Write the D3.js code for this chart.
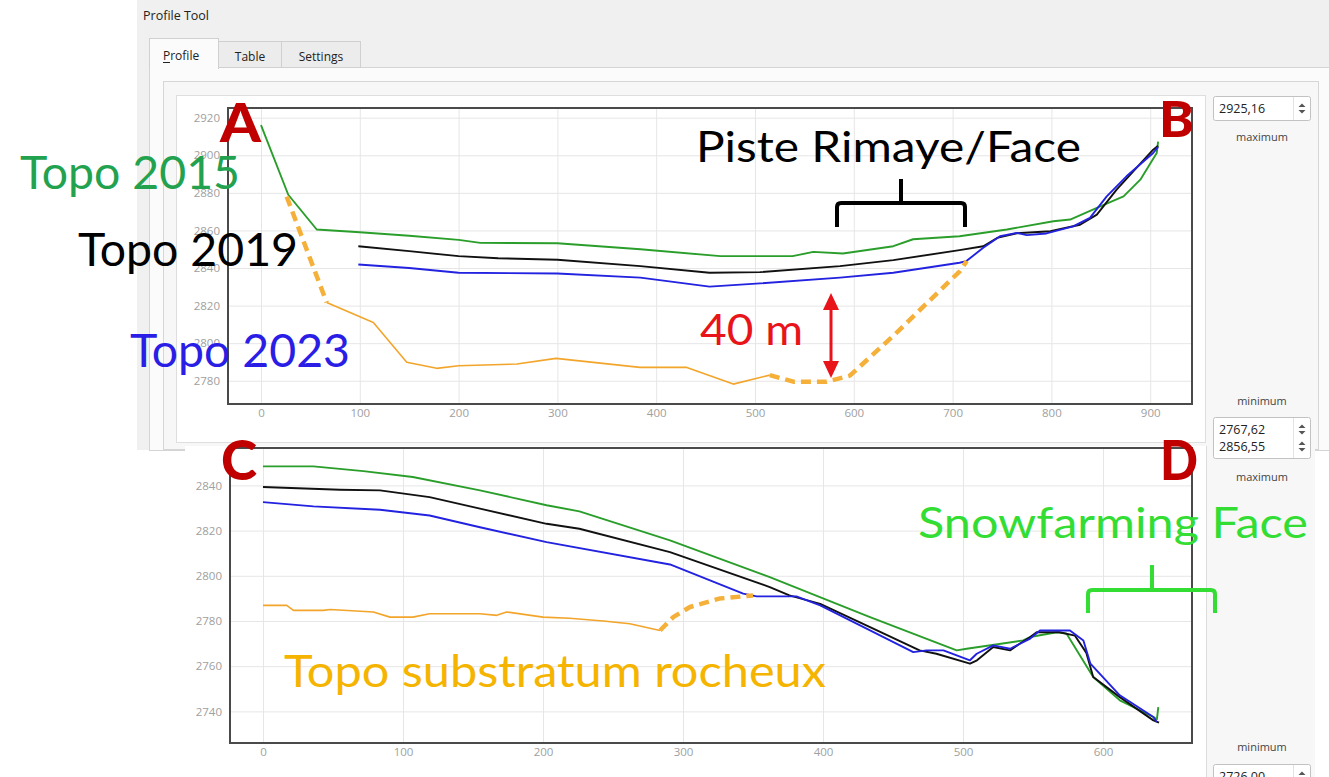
<!DOCTYPE html>
<html><head><meta charset="utf-8">
<script src="https://cdn.jsdelivr.net/npm/d3@7/dist/d3.min.js"></script>
<style>body{margin:0;background:#fff;} svg{display:block;}</style>
</head><body><svg id="c" width="1329" height="777"></svg>
<script>
// ---------- DATA ----------
const topXTicks = [0,100,200,300,400,500,600,700,800,900];
const topYTicks = [2780,2800,2820,2840,2860,2880,2900,2920];
const botXTicks = [0,100,200,300,400,500,600];
const botYTicks = [2740,2760,2780,2800,2820,2840];
const topYRange = [2767.62, 2925.16];
const botYRange = [2726.00, 2856.55];

// Profile A-B  [distance m, elevation m]
const topo2015AB = [[0,2916],[27.6,2879],[56.4,2860.5],[100,2859],[150,2857.2],[200,2855],[222,2853.4],[300,2853.2],[384,2850],[465,2846.3],[538,2846.3],[559,2848.6],[589,2847.7],[640,2851.6],[660,2855.3],[707,2856.9],[755,2860.5],[802,2864.9],[819,2865.8],[846,2872],[873,2878.1],[890,2887],[906.6,2901.2],[908,2907.3]];
const topo2019AB = [[98.5,2851.6],[150,2849],[200,2846.3],[240,2845.2],[300,2844.4],[384,2841],[454,2837.5],[505,2837.8],[586,2841],[640,2844.2],[707,2849.5],[731,2851.6],[745,2856],[765,2858.5],[799,2859.6],[829,2863],[846,2868.4],[866,2881.7],[903,2903],[908,2905]];
const topo2023AB = [[98.5,2841.9],[150,2840],[200,2837.5],[300,2837.1],[384,2834.9],[454,2830.1],[505,2831.8],[586,2834.9],[640,2837.5],[707,2842.8],[714,2843.7],[731,2850.8],[748,2856.9],[765,2858.7],[775,2857.5],[795,2858.4],[822,2862.2],[839,2866.7],[856,2878.1],[876,2888.8],[903,2901.2],[908,2904.5]];
const rockAB = [[66.5,2821.6],[113.7,2811],[147.5,2789.8],[177.8,2786.6],[200,2788],[259,2788.9],[298.6,2791.9],[383.6,2787.1],[431,2787.1],[478,2778.2],[515,2783]];
const rockAB_estA = [[26,2878],[66.5,2821.6]];
const rockAB_estB = [[515,2783],[538.8,2779.5],[572.6,2779.5],[596,2782.7],[640,2803.9],[707.5,2838.4],[714.3,2843.7]];

// Profile C-D
const topo2015CD = [[0,2848.4],[36,2848.4],[71.7,2846.3],[107,2843.7],[155,2837.8],[202.6,2831.2],[226,2828.5],[290.7,2815.7],[362,2799.4],[433.6,2781.7],[495.5,2767],[502.6,2767.7],[543,2771.4],[548,2772.9],[567,2775],[574,2774.4],[593,2755.2],[612,2744.9],[636,2737.5],[638.5,2736.5],[639.5,2741.9]];
const topo2019CD = [[0,2839.3],[55,2838.1],[83.6,2837.8],[119,2834.8],[155,2829.7],[202.6,2823],[226,2820.8],[290.7,2810.5],[362,2795],[376,2791.3],[398,2787.6],[433.6,2777.3],[469,2767],[481,2765.5],[505,2761.1],[510,2762.6],[521.6,2768.5],[533.6,2767],[540.7,2770],[548,2772.9],[552.6,2775],[569,2775],[580,2773.5],[588,2766],[593,2755.2],[612,2746.3],[636,2736],[640,2735]];
const topo2023CD = [[0,2832.6],[36,2830.7],[83.6,2829.2],[119,2826.7],[155,2821.5],[202.6,2814.9],[290.7,2805],[343,2792.1],[352.6,2790.9],[381,2790.9],[398,2786.9],[433.6,2775.8],[464.5,2766.2],[474,2767],[486,2767],[505,2762.6],[509.8,2765.5],[521.6,2769.2],[533.6,2767.7],[548,2772.2],[555,2775.8],[576.4,2775.8],[586,2771.4],[591,2761.1],[612,2747.1],[636,2737.5],[638.4,2735.3]];
const rockCD = [[0,2786.9],[17,2786.9],[21.7,2784.7],[43,2784.7],[48,2785.1],[78.8,2784],[90.7,2781.7],[107,2781.7],[119,2783.2],[155,2783.2],[167,2782.5],[174,2784],[200,2781.7],[219,2781.2],[243,2780],[262,2778.8],[283.6,2775.8]];
const rockCD_est = [[283.6,2775.8],[293,2781.7],[305,2786.2],[326,2789.9],[350,2791.3]];

// ---------- STYLE ----------
const C = {green:"#2a9e2a", black:"#111111", blue:"#2222e0", orange:"#f2a52a", orangeDash:"#f5b03a"};
const svg = d3.select("#c");
const uiFont = "'Open Sans', 'Noto Sans', sans-serif";
const annFont = "Lato, 'Open Sans', sans-serif";
const fmt = v => d3.format(".2f")(v).replace(".", ",");

// ---------- WINDOW CHROME (top screenshot) ----------
svg.append("rect").attr("x",137).attr("y",0).attr("width",1192).attr("height",450).attr("fill","#f0f0f0");
svg.append("text").attr("x",143).attr("y",20).attr("font-family",uiFont).attr("font-size",12.5).attr("fill","#222").text("Profile Tool");
// tab pane
svg.append("rect").attr("x",149.5).attr("y",67.5).attr("width",1200).attr("height",383).attr("fill","#fbfbfb").attr("stroke","#d4d4d4");
// tabs
const tabs = [{t:"Table",x:218.5,w:63,y:41.5},{t:"Settings",x:281.5,w:79,y:41.5}];
tabs.forEach(d=>{
  svg.append("rect").attr("x",d.x).attr("y",d.y).attr("width",d.w).attr("height",26).attr("fill","#ececec").attr("stroke","#d0d0d0");
  svg.append("text").attr("x",d.x+d.w/2).attr("y",61).attr("text-anchor","middle").attr("font-family",uiFont).attr("font-size",12).attr("fill","#222").text(d.t);
});
svg.append("rect").attr("x",149.5).attr("y",38.5).attr("width",69).attr("height",30).attr("fill","#fbfbfb").attr("stroke","#d0d0d0");
svg.append("rect").attr("x",150).attr("y",66).attr("width",68).attr("height",3).attr("fill","#fbfbfb");
svg.append("text").attr("x",163).attr("y",60).attr("font-family",uiFont).attr("font-size",12).attr("fill","#222").text("Profile");
svg.append("line").attr("x1",163).attr("x2",170).attr("y1",62.5).attr("y2",62.5).attr("stroke","#222");
// group box
svg.append("rect").attr("x",163.5).attr("y",81.5).attr("width",1155).attr("height",368).attr("fill","#f7f7f7").attr("stroke","#d6d6d6");
// plot widget
svg.append("rect").attr("x",176.5).attr("y",95.5).attr("width",1029).attr("height",347).attr("fill","#fff").attr("stroke","#dedede");

// ---------- bottom screenshot ----------
svg.append("rect").attr("x",185).attr("y",446).attr("width",1130).attr("height",331).attr("fill","#f7f7f7");
svg.append("rect").attr("x",185).attr("y",446).attr("width",1021).attr("height",331).attr("fill","#fff");
svg.append("line").attr("x1",1206.5).attr("x2",1206.5).attr("y1",446).attr("y2",777).attr("stroke","#dcdcdc");

// ---------- spin boxes ----------
function spinArrows(cx, cy){
  svg.append("path").attr("d",`M${cx-3.5},${cy-1.5} L${cx},${cy-5} L${cx+3.5},${cy-1.5} Z`).attr("fill","#555");
  svg.append("path").attr("d",`M${cx-3.5},${cy+1.5} L${cx},${cy+5} L${cx+3.5},${cy+1.5} Z`).attr("fill","#555");
}
function spinBox(y, h, values){
  svg.append("rect").attr("x",1213.5).attr("y",y+0.5).attr("width",97).attr("height",h).attr("rx",2).attr("fill","#fff").attr("stroke","#c2c2c2");
  svg.append("line").attr("x1",1293.5).attr("x2",1293.5).attr("y1",y+1).attr("y2",y+h).attr("stroke","#e2e2e2");
  values.forEach((v,i)=>{
    svg.append("text").attr("x",1219).attr("y",y+17+i*17).attr("font-family",uiFont).attr("font-size",12.5).attr("fill","#222").text(fmt(v));
    spinArrows(1302, y+12.5+i*17);
  });
}
function caption(y, t){
  svg.append("text").attr("x",1262).attr("y",y).attr("text-anchor","middle").attr("font-family",uiFont).attr("font-size",11).attr("fill","#444").text(t);
}
spinBox(96, 24, [topYRange[1]]);
caption(141, "maximum");
caption(405, "minimum");
spinBox(417, 41, [topYRange[0], botYRange[1]]);
caption(481, "maximum");
caption(751, "minimum");
spinBox(764, 24, [botYRange[0]]);

// ---------- chart panels ----------
function panel(cfg){
  const {x, y, xt, yt} = cfg;
  const [x0,x1] = x.range(), [y0,y1] = y.range(); // y0 bottom
  const g = svg.append("g");
  // grid
  const gx = g.append("g").attr("transform",`translate(0,${y0})`)
    .call(d3.axisBottom(x).tickValues(xt).tickSize(-(y0-y1)).tickFormat(""));
  gx.select(".domain").remove();
  gx.selectAll("line").attr("stroke","#e6e6e6");
  const gy = g.append("g").attr("transform",`translate(${x0},0)`)
    .call(d3.axisLeft(y).tickValues(yt).tickSize(-(x1-x0)).tickFormat(""));
  gy.select(".domain").remove();
  gy.selectAll("line").attr("stroke","#e6e6e6");
  // tick labels
  const lx = g.append("g").attr("transform",`translate(0,${y0})`)
    .call(d3.axisBottom(x).tickValues(xt).tickSize(0).tickPadding(5).tickFormat(d3.format("d")));
  lx.select(".domain").remove();
  lx.selectAll("text").attr("font-family",uiFont).attr("font-size",11.5).attr("fill","#a0a0a0");
  const ly = g.append("g").attr("transform",`translate(${x0},0)`)
    .call(d3.axisLeft(y).tickValues(yt).tickSize(0).tickPadding(8).tickFormat(d3.format("d")));
  ly.select(".domain").remove();
  ly.selectAll("text").attr("font-family",uiFont).attr("font-size",11.5).attr("fill","#a0a0a0");
  // frame
  g.append("rect").attr("x",x0).attr("y",y1).attr("width",x1-x0).attr("height",y0-y1)
    .attr("fill","none").attr("stroke","#4a4a4a").attr("stroke-width",2);
  const line = d3.line().x(d=>x(d[0])).y(d=>y(d[1]));
  cfg.series.forEach(s=>{
    g.append("path").datum(s.data).attr("d",line).attr("fill","none")
      .attr("stroke",s.color).attr("stroke-width",s.w||1.9)
      .attr("stroke-dasharray",s.dash||null).attr("stroke-linejoin","round");
  });
}

const topX = d3.scaleLinear().domain([-33.4, 942.3]).range([228, 1192]);
const topY = d3.scaleLinear().domain(topYRange).range([404, 108]);
panel({x:topX, y:topY, xt:topXTicks, yt:topYTicks, series:[
  {data:topo2015AB, color:C.green},
  {data:topo2019AB, color:C.black},
  {data:topo2023AB, color:C.blue},
  {data:rockAB, color:C.orange, w:1.6},
  {data:rockAB_estA, color:C.orangeDash, w:4.5, dash:"10 6"},
  {data:rockAB_estB, color:C.orangeDash, w:4.5, dash:"10 6"}
]});

const botX = d3.scaleLinear().domain([-23.57, 663.57]).range([230, 1192]);
const botY = d3.scaleLinear().domain(botYRange).range([743, 448]);
panel({x:botX, y:botY, xt:botXTicks, yt:botYTicks, series:[
  {data:topo2015CD, color:C.green},
  {data:topo2019CD, color:C.black},
  {data:topo2023CD, color:C.blue},
  {data:rockCD, color:C.orange, w:1.6},
  {data:rockCD_est, color:C.orangeDash, w:4.5, dash:"10 6"}
]});

// ---------- annotations ----------
function ann(t, x, y, size, color, len, weight){
  const e = svg.append("text").attr("x",x).attr("y",y).attr("font-family",annFont)
    .attr("font-size",size).attr("fill",color).attr("font-weight",weight||400).text(t);
  if(len) e.attr("textLength",len).attr("lengthAdjust","spacingAndGlyphs");
}
ann("Topo 2015", 20, 189, 46, "#22a24e", 220);
ann("Topo 2019", 78, 266, 46, "#000", 220);
ann("Topo 2023", 130, 367, 46, "#2a1ee6", 220);
ann("Piste Rimaye/Face", 696, 162, 42, "#000", 385);
ann("40 m", 700, 345, 42, "#e8141a", 103);
ann("Snowfarming Face", 918, 538, 42, "#33dd33", 390);
ann("Topo substratum rocheux", 284, 687, 44, "#f5b400", 542);
ann("A", 220, 142, 54, "#c00000", 41, 900);
ann("B", 1159, 137, 50, "#c00000", 35, 900);
ann("C", 221, 480, 56, "#c00000", 36, 900);
ann("D", 1160, 480, 56, "#c00000", 38, 900);

// brackets
svg.append("path").attr("d","M837,227 L837,207 Q837,203 841,203 L961,203 Q965,203 965,207 L965,227 M901,203 L901,179")
  .attr("fill","none").attr("stroke","#000").attr("stroke-width",4);
svg.append("path").attr("d","M1088,613 L1088,594 Q1088,590 1092,590 L1211,590 Q1215,590 1215,594 L1215,613 M1152,590 L1152,565")
  .attr("fill","none").attr("stroke","#33dd33").attr("stroke-width",4);
// red double arrow
svg.append("line").attr("x1",831).attr("x2",831).attr("y1",305).attr("y2",366).attr("stroke","#e8141a").attr("stroke-width",3);
svg.append("path").attr("d","M831,293 L839,310 L823,310 Z M831,378 L839,361 L823,361 Z").attr("fill","#e8141a");
</script></body></html>
